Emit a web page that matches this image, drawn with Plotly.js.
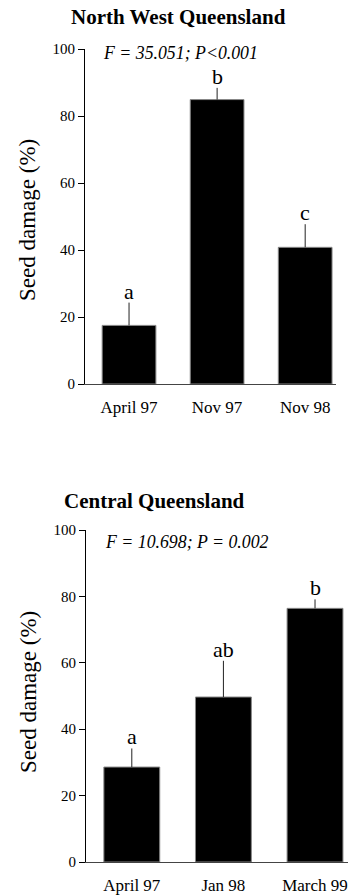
<!DOCTYPE html>
<html>
<head>
<meta charset="utf-8">
<script src="https://cdn.plot.ly/plotly-3.0.1.min.js"></script>
<style>html,body{margin:0;padding:0;background:#fff;}#chart{width:349px;height:895px;}</style>
</head>
<body>
<div id="chart"></div>
<script>
// North West Queensland
const catsNW = ['April 97', 'Nov 97', 'Nov 98'];
const meanNW = [17.5, 84.9, 40.8];
const errNW = [6.8, 3.5, 6.9];
const lettersNW = ['a', 'b', 'c'];
const titleNW = 'North West Queensland';
const statNW = 'F = 35.051; P<0.001';

// Central Queensland
const catsCQ = ['April 97', 'Jan 98', 'March 99'];
const meanCQ = [28.6, 49.7, 76.4];
const errCQ = [5.6, 10.9, 2.7];
const lettersCQ = ['a', 'ab', 'b'];
const titleCQ = 'Central Queensland';
const statCQ = 'F = 10.698; P = 0.002';

const yTicks = [0, 20, 40, 60, 80, 100];
const yTitle = 'Seed damage (%)';

const FONT = 'Liberation Serif, Times New Roman, Times, serif';
const W = 349, H = 895;

function barTrace(cats, vals, errs, xa, ya) {
  return {
    type: 'bar', x: cats, y: vals, xaxis: xa, yaxis: ya,
    width: 0.61,
    marker: {color: '#000', line: {color: '#888', width: 1}},
    error_y: {type: 'data', symmetric: false, array: errs, arrayminus: errs.map(() => 0),
              width: 0, thickness: 1, color: '#222'},
    showlegend: false, hoverinfo: 'skip'
  };
}

const data = [
  barTrace(catsNW, meanNW, errNW, 'x', 'y'),
  barTrace(catsCQ, meanCQ, errCQ, 'x2', 'y2')
];

function yAxis(domain, anchor) {
  return {
    domain: domain, anchor: anchor, range: [0, 100], tickvals: yTicks,
    showgrid: false, zeroline: false, showline: true, linecolor: '#000', linewidth: 1,
    ticks: 'outside', ticklen: 6, tickcolor: '#000', tickwidth: 1,
    tickfont: {family: FONT, size: 15, color: '#000'}, fixedrange: true
  };
}
function xAxis(domain, anchor, range) {
  return {
    domain: domain, anchor: anchor, type: 'category', range: range,
    showgrid: false, zeroline: false, showline: true, linecolor: '#444', linewidth: 1,
    ticks: '', ticklabelstandoff: 8,
    tickfont: {family: FONT, size: 17, color: '#000'}, fixedrange: true
  };
}

const annotations = [];
function addLetters(cats, vals, errs, letters, xr, yr) {
  cats.forEach((c, i) => {
    annotations.push({xref: xr, yref: yr, x: c, y: vals[i] + errs[i], text: letters[i],
      showarrow: false, yanchor: 'bottom', xanchor: 'center', yshift: -3,
      font: {family: FONT, size: 22, color: '#000'}});
  });
}
addLetters(catsNW, meanNW, errNW, lettersNW, 'x', 'y');
addLetters(catsCQ, meanCQ, errCQ, lettersCQ, 'x2', 'y2');

function pa(text, px, py, opts) {
  return Object.assign({xref: 'paper', yref: 'paper', x: px / W, y: 1 - py / H, text: text,
    showarrow: false, xanchor: 'center', yanchor: 'middle'}, opts);
}
annotations.push(pa('<b>' + titleNW + '</b>', 178, 17, {font: {family: FONT, size: 21, color: '#000'}}));
annotations.push(pa('<b>' + titleCQ + '</b>', 154, 501, {font: {family: FONT, size: 21, color: '#000'}}));
annotations.push(pa('<i>' + statNW + '</i>', 101, 53, {xanchor: 'left', font: {family: FONT, size: 17.8, color: '#000'}}));
annotations.push(pa('<i>' + statCQ + '</i>', 103, 542, {xanchor: 'left', font: {family: FONT, size: 17.8, color: '#000'}}));
annotations.push(pa(yTitle, 28, 220, {textangle: -90, font: {family: FONT, size: 23, color: '#000'}}));
annotations.push(pa(yTitle, 28, 692, {textangle: -90, font: {family: FONT, size: 23, color: '#000'}}));

const layout = {
  width: W, height: H,
  margin: {l: 0, r: 0, t: 0, b: 0},
  paper_bgcolor: '#fff', plot_bgcolor: '#fff',
  bargap: 0.39,
  xaxis: xAxis([85 / W, 336 / W], 'y', [-0.5, 2.35]),
  yaxis: yAxis([1 - 384 / H, 1 - 49 / H], 'x'),
  xaxis2: xAxis([86 / W, 348 / W], 'y2', [-0.5, 2.36]),
  yaxis2: yAxis([1 - 862 / H, 1 - 530 / H], 'x2'),
  annotations: annotations
};

Plotly.newPlot('chart', data, layout, {staticPlot: true, displayModeBar: false});
</script>
</body>
</html>
